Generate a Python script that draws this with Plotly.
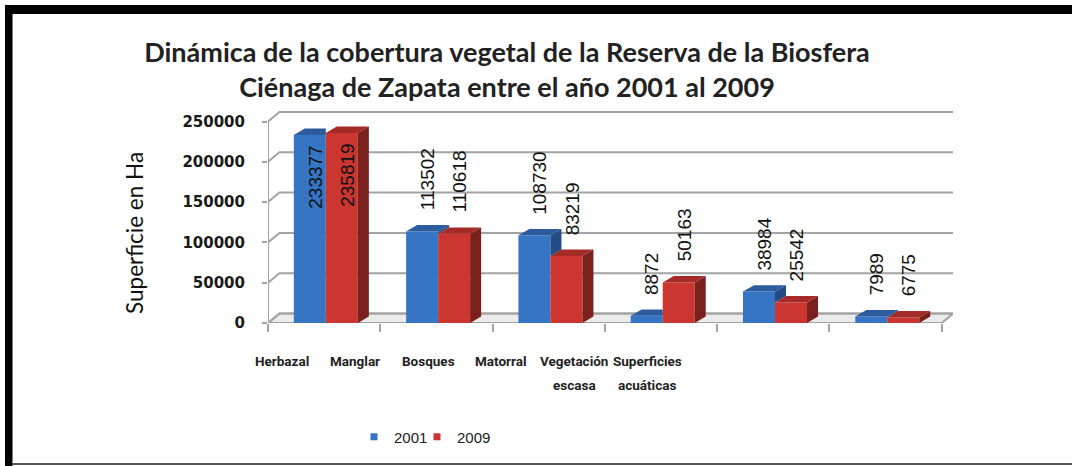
import plotly.graph_objects as go

# ---------------- data ----------------
categories = ["Herbazal", "Manglar", "Bosques", "Matorral",
              "Vegetación<br>escasa", "Superficies<br>acuáticas"]
series_names = ["2001", "2009"]
values_2001 = [233377, 113502, 108730, 8872, 38984, 7989]
values_2009 = [235819, 110618, 83219, 50163, 25542, 6775]
y_ticks = [0, 50000, 100000, 150000, 200000, 250000]
title_text = ("Dinámica de la cobertura vegetal de la Reserva de la Biosfera<br>"
              "Ciénaga de Zapata entre el año 2001 al 2009")
y_title = "Superficie en Ha"

# ---------------- geometry / style ----------------
W, H = 1072, 466
ML, MR, MT, MB = 268, 119, 108, 143
X_RANGE = [-0.5, 5.6]
Y_RANGE = [0, 266750]
PW = W - ML - MR
PH = H - MT - MB

BAR_W = 0.285
OFFSETS = [-0.27, 0.015]
BDX, BDY = 0.098, 8000        # bar depth
WDX, WDY = 0.102, 11800       # wall depth

FRONT = ["#3674C4", "#CB3631"]
TOP = ["#2C5C9E", "#A42B27"]
SIDE = ["#234C85", "#7A201D"]
GRID = "#A3A3A3"

series_values = [values_2001, values_2009]
n = len(categories)
xs = list(range(n))


def px_x(p):
    return (p - ML) / PW


def px_y(p):
    return (H - MB - p) / PH


fig = go.Figure()

# ---------- background: floor, back-wall gridlines, front axis (main subplot) ----------
fx = [X_RANGE[0], X_RANGE[0] + WDX, n - 0.5 + WDX, n - 0.5, X_RANGE[0]]
fy = [0, WDY, WDY, 0, 0]
fig.add_trace(go.Scatter(x=fx, y=fy, mode="lines", fill="toself",
                         fillcolor="#EBEBEB", line=dict(color=GRID, width=2),
                         hoverinfo="skip", showlegend=False))
gx, gy = [], []
for v in y_ticks:
    gx += [X_RANGE[0], X_RANGE[0] + WDX, n - 0.5 + WDX, None]
    gy += [v, v + WDY, v + WDY, None]
fig.add_trace(go.Scatter(x=gx, y=gy, mode="lines", line=dict(color=GRID, width=2),
                         hoverinfo="skip", showlegend=False))
fig.add_trace(go.Scatter(x=[X_RANGE[0], X_RANGE[0]], y=[0, y_ticks[-1]], mode="lines",
                         line=dict(color=GRID, width=2), hoverinfo="skip", showlegend=False))

# ---------- bars (overlay subplot, drawn above background) ----------
for s, vals in enumerate(series_values):
    fig.add_trace(go.Bar(x=xs, y=vals, width=BAR_W, offset=OFFSETS[s],
                         marker=dict(color=FRONT[s], line=dict(width=0)),
                         name=series_names[s], legendgroup=series_names[s],
                         showlegend=False, yaxis="y2"))

for s, vals in enumerate(series_values):
    sx, sy, tx, ty = [], [], [], []
    for i, v in enumerate(vals):
        x0 = i + OFFSETS[s]
        x1 = x0 + BAR_W
        if s == 0:
            vr = series_values[1][i]
            if v > vr:
                sx += [x1, x1 + BDX, x1 + BDX, x1, x1, None]
                sy += [vr, vr + BDY, v + BDY, v, vr, None]
                tx += [x0, x0 + BDX, x1 + BDX, x1, x0, None]
                ty += [v, v + BDY, v + BDY, v, v, None]
            else:
                tx += [x0, x0 + BDX, x1, x1, x0, None]
                ty += [v, v + BDY, v + BDY, v, v, None]
        else:
            sx += [x1, x1 + BDX, x1 + BDX, x1, x1, None]
            sy += [0, BDY, v + BDY, v, 0, None]
            tx += [x0, x0 + BDX, x1 + BDX, x1, x0, None]
            ty += [v, v + BDY, v + BDY, v, v, None]
    if sx:
        fig.add_trace(go.Scatter(x=sx, y=sy, mode="lines", fill="toself",
                                 fillcolor=SIDE[s], line=dict(width=0, color=SIDE[s]),
                                 hoverinfo="skip", showlegend=False, yaxis="y2"))
    fig.add_trace(go.Scatter(x=tx, y=ty, mode="lines", fill="toself",
                             fillcolor=TOP[s], line=dict(width=0, color=TOP[s]),
                             hoverinfo="skip", showlegend=False, yaxis="y2"))

# legend entries (small squares), one legend box per series
legend_ids = ["legend", "legend2"]
for s in range(2):
    fig.add_trace(go.Scatter(x=[None], y=[None], mode="markers",
                             marker=dict(symbol="square", size=7, color=FRONT[s]),
                             name=series_names[s], legendgroup=series_names[s],
                             showlegend=True, yaxis="y2", legend=legend_ids[s]))

# ---------- data labels (rotated) ----------
inside_limit = 0.8 * y_ticks[-1]
for s, vals in enumerate(series_values):
    for i, v in enumerate(vals):
        xc = i + OFFSETS[s] + BAR_W / 2 + BDX / 2
        inside = v > inside_limit
        fig.add_annotation(x=xc, y=v, xref="x", yref="y", text=str(v),
                           showarrow=False, textangle=-90,
                           yanchor="top" if inside else "bottom",
                           xanchor="center",
                           yshift=-9 if inside else 19,
                           font=dict(family="Liberation Sans, Arial, sans-serif",
                                     size=19, color="#111111"))

# ---------- category labels (each line placed separately for wider line spacing) ----------
LAB_X0 = px_x(282)
LAB_STEP = 73 / PW
LAB_Y0, LAB_DY = 351, 24
for i, c in enumerate(categories):
    for j, line in enumerate(c.split("<br>")):
        fig.add_annotation(x=LAB_X0 + i * LAB_STEP, y=px_y(LAB_Y0 + j * LAB_DY),
                           xref="paper", yref="paper", text=line, showarrow=False,
                           xanchor="center", yanchor="top", align="center",
                           font=dict(family="Roboto, sans-serif", size=13.5,
                                     color="#222222", weight="bold"))

# ---------- y axis title ----------
fig.add_annotation(x=px_x(134), y=px_y(233), xref="paper", yref="paper", text=y_title,
                   showarrow=False, textangle=-90, xanchor="center", yanchor="middle",
                   font=dict(family="Lato, Open Sans, sans-serif", size=22.5, color="#111111"))

# ---------- frame decoration ----------
fig.add_shape(type="rect", xref="paper", yref="paper",
              x0=px_x(5), x1=px_x(12.5), y0=px_y(H), y1=px_y(5),
              fillcolor="black", line=dict(width=0), layer="above")
fig.add_shape(type="rect", xref="paper", yref="paper",
              x0=px_x(5), x1=px_x(W), y0=px_y(14), y1=px_y(5),
              fillcolor="black", line=dict(width=0), layer="above")
fig.add_shape(type="line", xref="paper", yref="paper",
              x0=px_x(12), x1=px_x(W), y0=px_y(464), y1=px_y(464),
              line=dict(color="#555555", width=2), layer="above")

legend_common = dict(orientation="h", xanchor="left", yanchor="middle",
                     xref="paper", yref="paper", itemwidth=30,
                     font=dict(family="Liberation Sans, Arial, sans-serif", size=15,
                               color="#222222"),
                     bgcolor="rgba(0,0,0,0)")

fig.update_layout(
    width=W, height=H,
    margin=dict(l=ML, r=MR, t=MT, b=MB, autoexpand=False),
    paper_bgcolor="white", plot_bgcolor="white",
    title=dict(text=title_text, x=507 / W, xref="container", xanchor="center",
               y=1 - 62 / H, yref="container", yanchor="middle",
               font=dict(family="Lato, Open Sans, sans-serif", size=27,
                         color="#222222", weight="bold")),
    xaxis=dict(range=X_RANGE, tickvals=[i - 0.5 for i in range(n + 1)],
               showticklabels=False, ticks="outside", ticklen=8, tickwidth=2,
               tickcolor=GRID, showgrid=False, zeroline=False, showline=False,
               fixedrange=True),
    yaxis=dict(range=Y_RANGE, tickvals=y_ticks, ticktext=[str(v) for v in y_ticks],
               ticks="outside", ticklen=5, tickwidth=2, tickcolor=GRID,
               ticklabelstandoff=14, showgrid=False, zeroline=False, showline=False,
               tickfont=dict(family="DejaVu Sans, sans-serif", size=15,
                             color="#1a1a1a", weight="bold")),
    yaxis2=dict(range=Y_RANGE, overlaying="y", visible=False, showgrid=False,
                zeroline=False),
    legend=dict(x=px_x(354), y=px_y(437), **legend_common),
    legend2=dict(x=px_x(417), y=px_y(437), **legend_common),
    showlegend=True,
)

fig.write_html("out.html", config={"displayModeBar": False},
               post_script="document.body.style.margin='0px';")
